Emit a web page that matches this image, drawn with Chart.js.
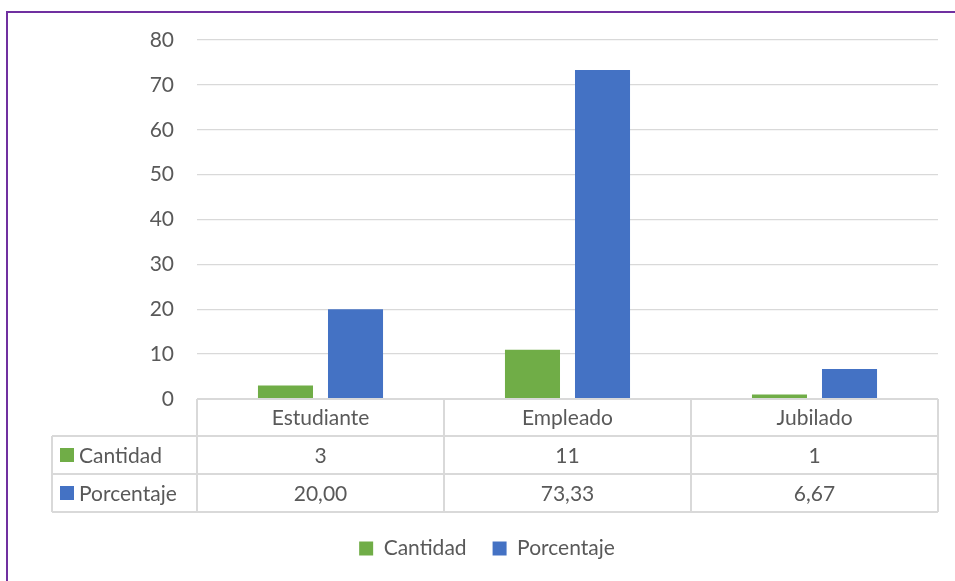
<!DOCTYPE html>
<html>
<head>
<meta charset="utf-8">
<script src="https://cdn.jsdelivr.net/npm/chart.js@4.4.1/dist/chart.umd.min.js"></script>
<style>
  html, body { margin: 0; padding: 0; background: #fff; overflow: hidden; }
  #wrap { position: relative; width: 955px; height: 581px; }
  #frame {
    position: absolute; left: 6px; top: 11px; width: 1200px; height: 800px;
    border-left: 2px solid #7030a0; border-top: 2px solid #7030a0;
    pointer-events: none;
  }
</style>
</head>
<body>
<div id="wrap">
  <canvas id="chart" width="955" height="581"></canvas>
  <div id="frame"></div>
</div>
<script>
// Values
const categories = ['Estudiante', 'Empleado', 'Jubilado']
const cantidad = [3, 11, 1]
const porcentaje = [20.00, 73.33, 6.67]
const seriesNames = ['Cantidad', 'Porcentaje']
const seriesColors = ['#70ad47', '#4472c4']

const textColor = '#595959'
const lineColor = '#d9d9d9'
const fontFamily = 'Lato, "Open Sans", sans-serif'
const fontSize = 21

// formats a number the Spanish way (comma as decimal mark)
function fmt(v, decimals) {
  return v.toFixed(decimals).replace('.', ',')
}

// Draws the data table under the plot, aligned to the x scale
const dataTable = {
  id: 'dataTable',
  afterDraw(chart) {
    const ctx = chart.ctx
    const xs = chart.scales.x
    const area = chart.chartArea
    const top = area.bottom
    const rowH = [37, 38, 38]
    const labelLeft = 52
    const colW = (area.right - area.left) / categories.length
    const y1 = top + rowH[0]
    const y2 = y1 + rowH[1]
    const y3 = y2 + rowH[2]

    ctx.save()
    ctx.strokeStyle = lineColor
    ctx.lineWidth = 2
    ctx.beginPath()
    // horizontal lines
    ctx.moveTo(area.left, top); ctx.lineTo(area.right, top)
    ctx.moveTo(labelLeft, y1); ctx.lineTo(area.right, y1)
    ctx.moveTo(labelLeft, y2); ctx.lineTo(area.right, y2)
    ctx.moveTo(labelLeft, y3); ctx.lineTo(area.right, y3)
    // vertical lines
    for (let i = 0; i <= categories.length; i++) {
      const x = area.left + colW * i
      ctx.moveTo(x, top); ctx.lineTo(x, y3)
    }
    ctx.moveTo(labelLeft, y1); ctx.lineTo(labelLeft, y3)
    ctx.stroke()

    ctx.fillStyle = textColor
    ctx.font = fontSize + 'px ' + fontFamily
    ctx.textBaseline = 'middle'
    ctx.textAlign = 'center'
    const rows = [
      categories,
      cantidad.map(v => fmt(v, 0)),
      porcentaje.map(v => fmt(v, 2))
    ]
    const mids = [(top + y1) / 2, (y1 + y2) / 2, (y2 + y3) / 2]
    for (let r = 0; r < rows.length; r++) {
      for (let i = 0; i < categories.length; i++) {
        ctx.fillText(rows[r][i], xs.getPixelForValue(i), mids[r] + 1)
      }
    }

    // series keys in the first column
    ctx.textAlign = 'left'
    for (let s = 0; s < seriesNames.length; s++) {
      const my = mids[s + 1]
      ctx.fillStyle = seriesColors[s]
      ctx.fillRect(labelLeft + 8, my - 7, 14, 14)
      ctx.fillStyle = textColor
      ctx.fillText(seriesNames[s], labelLeft + 27, my + 1)
    }
    ctx.restore()
  }
}

const ctx_chart = document.getElementById('chart')

new Chart(ctx_chart, {
  type: 'bar',
  data: {
    labels: categories,
    datasets: [
      { label: seriesNames[0], data: cantidad, backgroundColor: seriesColors[0] },
      { label: seriesNames[1], data: porcentaje, backgroundColor: seriesColors[1] }
    ]
  },
  options: {
    responsive: false,
    animation: false,
    categoryPercentage: 0.567,
    barPercentage: 0.786,
    layout: { padding: { top: 40, right: 17, bottom: 12, left: 36 } },
    plugins: {
      tooltip: { enabled: false },
      legend: {
        position: 'bottom',
        labels: {
          boxWidth: 14,
          boxHeight: 14,
          padding: 26,
          color: textColor,
          font: { family: fontFamily, size: fontSize }
        }
      }
    },
    scales: {
      x: {
        ticks: { display: false },
        grid: { display: false },
        border: { display: false },
        afterFit(scale) { scale.height = 113 }
      },
      y: {
        min: 0,
        max: 80,
        ticks: {
          stepSize: 10,
          padding: 23,
          color: textColor,
          font: { family: fontFamily, size: fontSize }
        },
        grid: { color: lineColor, lineWidth: 1.3, drawTicks: false },
        border: { display: false },
        afterFit(scale) { scale.width = 161 }
      }
    }
  },
  plugins: [dataTable]
})
</script>
</body>
</html>
